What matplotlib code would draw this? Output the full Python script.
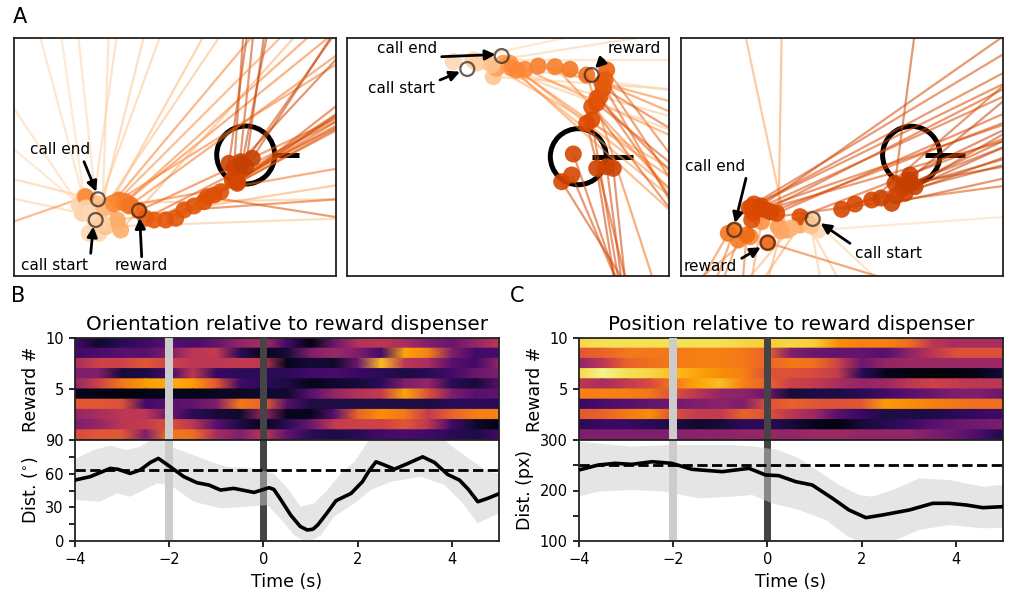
import numpy as np
import matplotlib
matplotlib.use("Agg")
import matplotlib.pyplot as plt
from matplotlib.patches import Circle
from matplotlib.collections import LineCollection
from matplotlib.ticker import MultipleLocator

plt.rcParams["axes.linewidth"] = 1.3
plt.rcParams["axes.edgecolor"] = "#222222"

########################### panel A data (video px, y down) ###################

# trajectory dots: x, y, head angle (deg), time level (colour)
a1_x = [68.3, 65, 75, 85, 70, 78.3, 85, 91.7, 81.7, 95, 71.7, 98.3, 105, 111.7, 116.7, 103.3, 106.7,
        125, 131.7, 151.7, 161.7, 170, 190, 193.3, 206.7, 218.3, 223.3, 215, 225, 231.7, 238.3, 226.7, 223.3,
        72, 80, 88, 76, 90, 100, 110, 115, 140, 180, 200, 220, 228]
a1_y = [175.3, 167, 195.3, 195.3, 158.7, 172, 178.7, 188.7, 165.3, 168.7, 158.7, 165.3, 162, 163.7, 167, 182, 192,
        172.7, 180.3, 182, 180.3, 172, 163.7, 158.7, 153.7, 142, 145.3, 125.3, 132, 128.7, 120.3, 123.7, 143.7,
        170, 180, 185, 175, 170, 166, 165, 168, 182, 168, 157, 130, 126]
a1_ang = [168, 124, 98, 96, 166, 82, 76, 2, 1, 61, 199, 50, 32, 39, 10, 9, 48,
          25, 27, 29, 33, 4, 29, -9, 33, 55, 38, 82, 84, 82, 57, 47, 34,
          105, 70, 88, 140, 56, 45, 42, 36, 27, 28, 31, 86, 79]
a1_lev = [.25, .22, .2, .22, .28, .25, .3, .3, .32, .35, .52, .55, .58, .58, .6, .4, .38,
          .66, .68, .7, .7, .7, .72, .72, .72, .74, .74, .78, .78, .8, .8, .78, .76,
          .22, .28, .25, .2, .33, .5, .55, .58, .68, .7, .72, .78, .8]

a2_x = [106.3, 126.3, 139.7, 146.3, 149.7, 156.3, 163, 149.7, 178, 191.3, 208, 223, 239.7,
        259.7, 258, 256.3, 253, 249.7, 244.7, 244.7, 239.7, 226.3, 249.7, 259.7, 266.3, 224.7, 214.7,
        130, 145, 165, 170, 250, 255]
a2_y = [23.7, 22, 23.7, 38.7, 28.7, 25.3, 25.3, 30.3, 31.3, 28, 28.7, 31.3, 37,
        32, 42, 50.3, 58.7, 65.3, 68.7, 82, 85.3, 116, 130.3, 128.7, 130.3, 137, 143.7,
        25, 27, 30, 32, 60, 45]
a2_ang = [12, 0, 9, -4, -16, -38.6, -38, -30, -24.5, -15, -47, -23, -72,
          -53, -56.5, -31, -55, -39, -52.5, -80.5, -76, -71, -81, -82.6, -84, -67, -58,
          -8, -20, -42, -35, -45, -60]
a2_lev = [.2, .22, .25, .28, .3, .45, .48, .42, .52, .55, .55, .58, .6,
          .66, .68, .7, .7, .72, .72, .74, .74, .76, .78, .78, .78, .76, .76,
          .25, .3, .5, .52, .7, .68]

a3_x = [137.3, 131.7, 125.7, 119, 105.7, 97.3, 80.7, 69, 57.3, 47.3, 53.3, 65.7, 86.7,
        70.7, 70.7, 77.3, 95.7, 119, 160.7, 174, 190.7, 210.7, 214, 224, 227.3, 229, 234,
        73, 75, 68, 80, 72, 222, 230, 110, 100, 130, 85, 90, 200, 215]
a3_y = [192, 181, 183.7, 187, 192, 188.7, 183.7, 198.7, 202, 195.3, 192, 197, 204.7,
        182, 168.7, 170.3, 175.3, 178.7, 171.3, 166, 162, 165.3, 145.3, 155.3, 142, 137, 148.7,
        166, 172, 170, 168, 175, 150, 145, 190, 193, 188, 172, 174, 160, 158]
a3_ang = [4, -43, -61, -124, 102, 89, -100, -140, -111, -120, -110, -95, -17,
          7.7, 28, 24.5, 23.7, 21, 21, 14.7, 41, 12.5, 82.5, 20, 39.7, 25.7, 24,
          31, 19, 26, 35, 16, 16, 10, -130, -105, -80, 27, 21, 25, 30]
a3_lev = [.2, .25, .3, .4, .42, .45, .48, .52, .56, .58, .6, .62, .64,
          .72, .74, .74, .74, .74, .76, .76, .76, .78, .78, .78, .8, .8, .8,
          .74, .74, .74, .76, .74, .8, .8, .35, .4, .3, .75, .75, .78, .78]

# event markers (call end, call start, reward)
event_names = ["call end", "call start", "reward"]
a1_evt_x, a1_evt_y = [84, 81.7, 125], [161.3, 182, 172.7]
a2_evt_x, a2_evt_y = [154.7, 120.3, 244.7], [18, 31, 37]
a3_evt_x, a3_evt_y = [53.3, 131.7, 86.7], [192, 181, 204.7]

# label centre, arrow tail, arrow tip
a1_lab = [(46, 112), (41, 227), (127, 227)]
a1_tail = [(70, 123.7), (76.7, 215.3), (127.7, 218.7)]
a1_tip = [(82.3, 153.7), (79.3, 188.5), (125.7, 180)]
a2_lab = [(59.7, 10.3), (54.7, 50.3), (287.7, 10.3)]
a2_tail = [(94.7, 18.7), (93, 42), (256.3, 22)]
a2_tip = [(148.5, 16.5), (113, 33.7), (248, 30.3)]
a3_lab = [(34, 128.7), (207.3, 215.3), (29.3, 228.7)]
a3_tail = [(65, 140.3), (169, 205.3), (60.7, 220.3)]
a3_tip = [(54, 185), (139.7, 185.3), (79.7, 209.3)]

# reward dispenser: centre, radius, bar start/end
disp_xy = [(231.7, 117), (231.3, 118.7), (230.3, 117)]
disp_r = [29, 28, 28.7]
disp_bar = [(261, 285), (244.7, 285.7), (244, 284)]

########################### panel B/C data ####################################

heat_t = np.arange(-4, 5.01, 0.5)
# rows from reward 10 (top) to reward 1 (bottom), colour-scale level in %
orient_heat = [
    [20, 8, 15, 20, 25, 22, 28, 40, 45, 20, 3, 30, 48, 50, 45, 35, 30, 40, 50],
    [20, 22, 25, 25, 35, 50, 52, 15, 5, 10, 35, 42, 35, 20, 80, 72, 35, 20, 22],
    [45, 55, 55, 62, 55, 50, 50, 52, 50, 5, 10, 8, 30, 85, 50, 45, 25, 20, 40],
    [35, 35, 10, 12, 20, 50, 18, 15, 15, 15, 20, 22, 18, 15, 12, 15, 20, 30, 35],
    [40, 55, 70, 78, 82, 78, 62, 20, 15, 12, 5, 8, 10, 15, 35, 40, 15, 10, 25],
    [5, 4, 3, 4, 5, 5, 6, 7, 8, 8, 25, 40, 48, 52, 80, 60, 35, 25, 28],
    [62, 62, 60, 20, 25, 28, 35, 70, 65, 25, 12, 12, 12, 12, 12, 12, 15, 15, 15],
    [40, 45, 50, 50, 30, 15, 10, 8, 40, 5, 5, 25, 65, 75, 70, 52, 65, 72, 72],
    [35, 40, 50, 52, 60, 50, 25, 12, 5, 15, 30, 52, 55, 55, 62, 50, 20, 8, 3],
    [58, 62, 62, 35, 70, 68, 45, 35, 50, 28, 15, 12, 15, 20, 22, 20, 15, 12, 20],
]
pos_heat = [
    [90, 92, 92, 92, 92, 92, 92, 90, 88, 90, 88, 75, 72, 72, 68, 50, 45, 45, 45],
    [62, 65, 70, 70, 70, 72, 72, 70, 65, 35, 30, 28, 28, 25, 38, 50, 60, 60, 60],
    [40, 50, 65, 68, 70, 72, 72, 70, 65, 70, 68, 55, 30, 40, 42, 42, 42, 42, 42],
    [90, 97, 92, 90, 85, 80, 75, 72, 60, 60, 58, 52, 15, 5, 3, 2, 2, 5, 10],
    [50, 45, 52, 58, 70, 80, 85, 72, 65, 55, 52, 45, 40, 42, 50, 55, 52, 50, 50],
    [72, 72, 72, 70, 60, 50, 40, 38, 30, 10, 12, 12, 15, 20, 25, 30, 35, 35, 30],
    [18, 22, 25, 28, 32, 35, 38, 35, 60, 65, 62, 60, 62, 78, 75, 72, 70, 68, 68],
    [62, 65, 70, 75, 60, 52, 52, 65, 60, 50, 42, 25, 18, 12, 12, 12, 15, 18, 20],
    [15, 18, 18, 15, 12, 8, 10, 15, 15, 10, 5, 3, 10, 14, 18, 25, 30, 32, 35],
    [35, 35, 35, 35, 36, 38, 38, 40, 40, 40, 42, 42, 40, 40, 40, 35, 30, 22, 12],
]

orient_t = [-4, -3.68, -3.25, -3.08, -2.83, -2.62, -2.4, -2.23, -1.98, -1.69, -1.41, -1.16, -0.91, -0.63,
            -0.2, 0.12, 0.22, 0.35, 0.58, 0.78, 0.93, 1.05, 1.15, 1.35, 1.54, 1.86, 2.1, 2.25, 2.39, 2.55,
            2.78, 3.06, 3.38, 3.63, 3.91, 4.16, 4.35, 4.55, 4.76, 5.0]
orient_mean = [54.3, 57.3, 64.7, 63.8, 60.2, 63.2, 70, 73.6, 66.2, 57.3, 51.9, 49.9, 45.4, 46.9,
               43.3, 47.5, 46, 38, 23, 13, 9.8, 10.5, 14.2, 25, 35.9, 42.4, 52.8, 63, 70.6, 68,
               64, 69, 75, 70, 59.3, 54.3, 46, 35, 38, 42.1]
orient_up_t = [-4, -3.61, -3.25, -2.9, -2.62, -2.26, -1.98, -1.48, -1.13, -0.77, -0.2, 0.22, 0.51, 0.79,
               1.07, 1.36, 1.64, 1.93, 2.21, 2.5, 3.0, 3.5, 3.85, 4.06, 4.41, 4.77, 5.0]
orient_up = [73, 81, 85, 81, 84, 93, 84, 76.6, 70.6, 66, 64.7, 60, 47, 30.6,
             33.5, 45.4, 60, 70.6, 88, 97, 100, 97, 90, 82.5, 72, 61.7, 60]
orient_lo_t = [-4, -3.47, -3.11, -2.83, -2.26, -1.98, -1.48, -0.91, -0.34, 0.08, 0.36, 0.65, 0.93, 1.22,
               1.5, 1.93, 2.28, 2.71, 3.35, 3.84, 4.2, 4.55, 4.91, 5.0]
orient_lo = [36.5, 35, 42.4, 39.5, 51.3, 49.9, 35, 29, 30.6, 32, 20, 5.3, -2, 5,
             21.7, 33.5, 45.4, 52.8, 57.3, 50, 35, 15.7, 23, 24]
orient_chance = 63

pos_t = [-4, -3.59, -3.23, -2.88, -2.45, -2.03, -1.6, -0.96, -0.39, -0.04, 0.24, 0.6, 0.95, 1.38,
         1.73, 2.09, 2.44, 3.01, 3.51, 3.86, 4.22, 4.57, 5.0]
pos_mean = [240.6, 250.5, 253.8, 251.8, 257, 253.8, 241.9, 237.3, 243.9, 230.7, 229.4, 217.5, 210.9, 184.5,
            161.4, 146.2, 151.5, 161.4, 174.6, 174.6, 171.3, 166, 168]
pos_up_t = [-4, -3.59, -2.88, -2.17, -1.46, -0.75, -0.25, 0.24, 0.67, 1.1, 1.52, 1.95, 2.23, 2.66,
            3.22, 3.86, 4.57, 5.0]
pos_up = [297, 293, 286.8, 290, 290, 290, 286.8, 280, 263.7, 237, 211, 191, 187.8, 201,
          224, 220.8, 207.6, 211]
pos_lo_t = [-4, -3.59, -2.88, -2.17, -1.46, -0.75, -0.32, 0.1, 0.67, 1.24, 1.66, 1.95, 2.44, 2.8,
            3.22, 3.86, 4.57, 5.0]
pos_lo = [187.8, 197.7, 201, 197.7, 184.5, 187.8, 191, 174.6, 161.4, 141.6, 111.9, 98, 92, 105,
          121.8, 131.7, 125, 126.4]
pos_chance = 250

call_t = -2
reward_t = 0

########################### figure ###########################################

W, H = 1009, 596
fig = plt.figure(figsize=(W / 100, H / 100), dpi=100)
cmap = plt.get_cmap("Oranges")


def frac(x0, y0, x1, y1):
    return [x0 / W, 1 - y1 / H, (x1 - x0) / W, (y1 - y0) / H]


def draw_track(ax, xs, ys, ang, lev, ex, ey, lab, tail, tip, d):
    ax.set_xlim(0, 322)
    ax.set_ylim(238, 0)
    ax.set_xticks([])
    ax.set_yticks([])
    cx, cy = disp_xy[d]
    ax.add_patch(Circle((cx, cy), disp_r[d], fill=False, lw=3.6, color="k", zorder=1))
    ax.plot(disp_bar[d], [cy, cy], color="k", lw=3.6, solid_capstyle="butt", zorder=1)
    xs, ys, a = np.array(xs), np.array(ys), np.radians(ang)
    L = 800
    segs = [[(x, y), (x + L * np.cos(t), y - L * np.sin(t))] for x, y, t in zip(xs, ys, a)]
    cols = cmap(np.array(lev))
    cols[:, 3] = 0.55
    ax.add_collection(LineCollection(segs, colors=cols, lw=1.6, zorder=2))
    ax.scatter(xs, ys, s=150, c=cmap(np.array(lev)), alpha=0.9, lw=0, zorder=3)
    ax.scatter(ex, ey, s=100, facecolors="none", edgecolors="#3a2a20", lw=1.6, alpha=0.75, zorder=4)
    for (lx, ly), t0, t1, name in zip(lab, tail, tip, event_names):
        ax.text(lx, ly, name, fontsize=11, ha="center", va="center", zorder=6)
        ax.annotate("", xy=t1, xytext=t0, zorder=6,
                    arrowprops=dict(arrowstyle="-|>,head_width=0.3,head_length=0.6", color="k",
                                    lw=2, shrinkA=0, shrinkB=0, mutation_scale=10))


axA1 = fig.add_axes(frac(14, 38, 336, 276))
axA2 = fig.add_axes(frac(347, 38, 669, 276))
axA3 = fig.add_axes(frac(681, 38, 1003, 276))
draw_track(axA1, a1_x, a1_y, a1_ang, a1_lev, a1_evt_x, a1_evt_y, a1_lab, a1_tail, a1_tip, 0)
draw_track(axA2, a2_x, a2_y, a2_ang, a2_lev, a2_evt_x, a2_evt_y, a2_lab, a2_tail, a2_tip, 1)
draw_track(axA3, a3_x, a3_y, a3_ang, a3_lev, a3_evt_x, a3_evt_y, a3_lab, a3_tail, a3_tip, 2)


def draw_heat(ax, rows, title):
    n = len(rows)
    for i, vals in enumerate(rows):
        r = n - i
        X, Y = np.meshgrid(heat_t, [r - 1, r])
        ax.pcolormesh(X, Y, np.array([vals, vals]), shading="gouraud", cmap="inferno",
                      vmin=0, vmax=100, rasterized=True)
    ax.axvspan(call_t - 0.08, call_t + 0.08, color="#cccccc", lw=0, zorder=3)
    ax.axvspan(reward_t - 0.08, reward_t + 0.08, color="#444444", lw=0, zorder=3)
    ax.set_xlim(-4, 5)
    ax.set_ylim(0, 10)
    ax.set_yticks([5, 10])
    ax.set_xticks([])
    ax.tick_params(labelsize=10.5, length=4.5, width=1.2)
    ax.set_ylabel("Reward #", fontsize=12.5)
    ax.set_title(title, fontsize=14.4, pad=6)


def draw_line(ax, t, m, tu, up, tl, lo, chance, ylim, major, minor, ylabel):
    ax.axvspan(call_t - 0.08, call_t + 0.08, color="#cccccc", lw=0, zorder=0.5)
    ax.axvspan(reward_t - 0.08, reward_t + 0.08, color="#444444", lw=0, zorder=0.5)
    ax.fill(np.r_[tu, tl[::-1]], np.r_[up, lo[::-1]], color="#cccccc", alpha=0.5, lw=0, zorder=1)
    ax.axhline(chance, color="k", ls="--", lw=2, zorder=2)
    ax.plot(t, m, color="k", lw=2.6, zorder=3)
    ax.set_xlim(-4, 5)
    ax.set_ylim(*ylim)
    ax.yaxis.set_major_locator(MultipleLocator(major))
    ax.yaxis.set_minor_locator(MultipleLocator(minor))
    ax.set_xticks([-4, -2, 0, 2, 4])
    ax.tick_params(which="both", labelsize=10.5, length=4.5, width=1.2)
    ax.set_ylabel(ylabel, fontsize=12.5)
    ax.set_xlabel("Time (s)", fontsize=12.5)


axBh = fig.add_axes(frac(75, 338, 499, 440))
axBl = fig.add_axes(frac(75, 440, 499, 541))
axCh = fig.add_axes(frac(579, 338, 1003, 440))
axCl = fig.add_axes(frac(579, 440, 1003, 541))

draw_heat(axBh, orient_heat, "Orientation relative to reward dispenser")
draw_heat(axCh, pos_heat, "Position relative to reward dispenser")
draw_line(axBl, orient_t, orient_mean, np.array(orient_up_t), np.array(orient_up),
          np.array(orient_lo_t), np.array(orient_lo), orient_chance, (0, 90), 30, 15,
          "Dist. ($^{\\circ}$)")
draw_line(axCl, pos_t, pos_mean, np.array(pos_up_t), np.array(pos_up),
          np.array(pos_lo_t), np.array(pos_lo), pos_chance, (100, 300), 100, 50,
          "Dist. (px)")

fig.text(13 / W, 1 - 7 / H, "A", fontsize=15, va="top")
fig.text(11 / W, 1 - 286 / H, "B", fontsize=15, va="top")
fig.text(510 / W, 1 - 286 / H, "C", fontsize=15, va="top")

fig.savefig("out.png", dpi=100, facecolor="white")
plt.close()
